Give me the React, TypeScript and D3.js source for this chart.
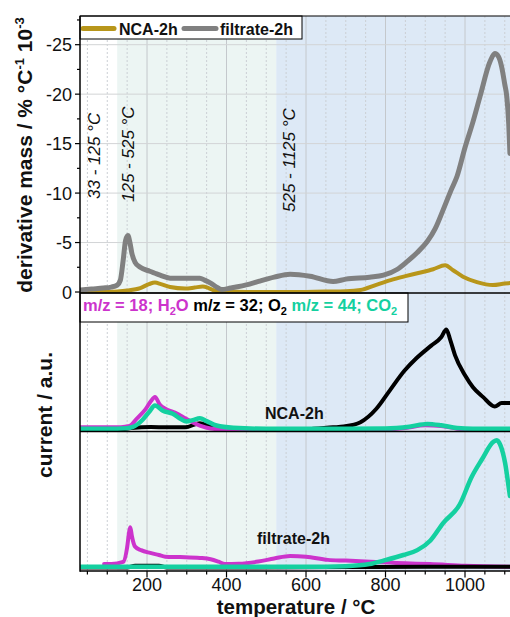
import React from 'react';
import * as d3 from 'd3';

const W = 510;
const H = 617;
const FONT = "'Liberation Sans', Arial, Helvetica, sans-serif";

// ---- axis ticks ----
const X_MAJOR_TICKS = [200, 400, 600, 800, 1000];
const X_MINOR_STEP = 50;
const Y_TOP_TICKS = [0, -5, -10, -15, -20, -25];

// ---- temperature regions ----
const REGION_START = [33, 125, 525];
const REGION_END = [125, 525, 1125];
const REGION_LABELS = ['33 - 125 °C', '125 - 525 °C', '525 - 1125 °C'];

// ---- top panel: derivative mass (% °C-1 10-3) ----
const T_DTG_FIL = [33, 60, 90, 110, 125, 133, 140, 146, 152, 157, 162, 170, 183, 207, 220, 233, 258, 300, 333, 345, 360, 375, 388, 410, 458, 483, 520, 560, 610, 668, 700, 760, 795, 830, 855, 880, 905, 925, 945, 965, 980, 1000, 1020, 1038, 1063, 1075, 1084, 1092, 1100, 1105, 1110, 1113];
const V_DTG_FIL = [-0.2, -0.3, -0.4, -0.5, -0.7, -1.2, -3.2, -5.2, -5.7, -5.0, -3.9, -3.0, -2.5, -2.1, -1.9, -1.7, -1.4, -1.4, -1.4, -1.2, -0.9, -0.5, -0.25, -0.4, -0.8, -1.1, -1.5, -1.8, -1.6, -1.05, -1.3, -1.5, -1.7, -2.3, -3.1, -4.0, -5.1, -6.4, -8.3, -10.3, -11.7, -14.6, -17.2, -19.8, -23.3, -24.1, -23.8, -22.8, -21.0, -19.8, -17.0, -14.0];

const T_DTG_NCA = [33, 100, 125, 150, 183, 205, 220, 235, 258, 296, 320, 340, 355, 370, 390, 450, 550, 650, 700, 737, 775, 813, 850, 880, 920, 950, 970, 995, 1030, 1070, 1100, 1113];
const V_DTG_NCA = [0, 0, -0.05, -0.15, -0.4, -0.8, -0.95, -0.8, -0.5, -0.35, -0.45, -0.55, -0.4, -0.15, -0.05, 0, 0, -0.05, -0.08, -0.2, -0.7, -1.2, -1.6, -1.9, -2.3, -2.7, -2.2, -1.55, -1.0, -0.7, -0.85, -0.9];

// ---- middle panel: NCA-2h ion currents (a.u.) ----
const T_NCA_O2 = [33, 130, 160, 210, 250, 296, 333, 355, 380, 420, 500, 600, 668, 695, 737, 777, 811, 848, 877, 915, 940, 953, 963, 975, 1000, 1020, 1045, 1075, 1092, 1113];
const V_NCA_O2 = [1.5, 1.5, 2.5, 3.2, 3.0, 3.0, 6.0, 4.0, 1.5, 1.0, 1.0, 1.5, 3.0, 3.6, 6.7, 16.4, 29.7, 44, 52.7, 62, 68, 73.7, 66, 55, 40.6, 32, 25, 18, 20.5, 20.5];

const T_NCA_H2O = [33, 125, 145, 158, 174, 196, 210, 220, 232, 246, 265, 280, 296, 314, 333, 360, 400, 500, 700, 800, 850, 900, 940, 980, 1020, 1113];
const V_NCA_H2O = [3, 3, 3.5, 4.3, 9.2, 16, 22, 25, 19.5, 16.4, 14.2, 12.3, 9.5, 6.7, 4.3, 2.2, 1.5, 1.2, 1.2, 1.5, 2.5, 4.5, 4.0, 2.0, 1.2, 1.2];

const T_NCA_CO2 = [33, 125, 150, 163, 189, 205, 220, 240, 265, 285, 299, 315, 333, 350, 375, 417, 500, 700, 800, 860, 905, 940, 980, 1020, 1113];
const V_NCA_CO2 = [2, 2, 2.3, 3.1, 8.5, 14, 18.8, 15, 12.8, 9, 7.2, 8.2, 9.6, 7.5, 4.3, 2.7, 2.0, 2.0, 2.2, 3.5, 5.5, 4.5, 2.5, 2.0, 2.0];

// ---- bottom panel: filtrate-2h ion currents (a.u.) ----
const T_FIL_O2 = [33, 150, 170, 230, 250, 400, 700, 900, 1113];
const V_FIL_O2 = [2.5, 2.5, 3.8, 3.8, 2.5, 2.5, 2.8, 3.0, 3.0];

const T_FIL_H2O = [92, 110, 140, 150, 155, 158, 162, 170, 185, 208, 230, 246, 283, 333, 360, 380, 396, 430, 480, 520, 560, 600, 655, 700, 762, 850, 912, 1000, 1113];
const V_FIL_H2O = [5, 5, 6.5, 17, 28, 31.5, 25, 17.5, 15, 13, 11.5, 10.3, 10, 9.4, 8.5, 6.7, 5, 5.2, 6.8, 9, 10.8, 10.3, 8, 7.5, 6.7, 5.5, 5, 3.8, 3];

const T_FIL_CO2 = [33, 200, 400, 600, 700, 760, 795, 845, 880, 913, 945, 987, 1017, 1042, 1072, 1080, 1089, 1101, 1111, 1113];
const V_FIL_CO2 = [3, 3, 3, 3, 3.5, 5, 7.5, 11.5, 15, 22, 34.5, 48, 67.8, 80, 93, 94, 90.6, 77.5, 58, 54];

// ---- colours ----
const C_NCA = '#b8961a';
const C_FIL = '#808080';
const C_H2O = '#cc33cc';
const C_O2 = '#000000';
const C_CO2 = '#14d0a0';

const LEFT = 80;
const RIGHT = 510;
const TOP = 16;
const P1_BOTTOM = 293;
const P2_BOTTOM = 431.5;
const P3_BOTTOM = 571;

export default function App() {
  const x = d3.scaleLinear().domain([31.4, 1113.2]).range([LEFT, RIGHT]);
  const yTop = d3.scaleLinear().domain([0.1, -27.9]).range([P1_BOTTOM, TOP]);
  const yMid = d3.scaleLinear().domain([0, 100]).range([P2_BOTTOM, 293]);
  const yBot = d3.scaleLinear().domain([0, 100]).range([P3_BOTTOM, 432]);

  const mk = (ys: d3.ScaleLinear<number, number>, ts: number[], vs: number[]) => {
    const line = d3
      .line<number>()
      .x((_, i) => x(ts[i]))
      .y((v) => ys(v))
      .curve(d3.curveMonotoneX);
    return line(vs) || '';
  };

  const minorTicks = d3.range(50, 1113, X_MINOR_STEP);
  const yMinor = d3.range(0, -27.6, -2.5);

  return (
    <svg
      width={W}
      height={H}
      style={{ position: 'absolute', left: 0, top: 0, background: '#fff' }}
      fontFamily={FONT}
    >
      <defs>
        <clipPath id="c1">
          <rect x={LEFT} y={TOP} width={RIGHT - LEFT} height={P1_BOTTOM - TOP} />
        </clipPath>
        <clipPath id="c2">
          <rect x={LEFT} y={P1_BOTTOM} width={RIGHT - LEFT} height={P2_BOTTOM - P1_BOTTOM} />
        </clipPath>
        <clipPath id="c3">
          <rect x={LEFT} y={P2_BOTTOM} width={RIGHT - LEFT} height={P3_BOTTOM - P2_BOTTOM} />
        </clipPath>
      </defs>
      <rect x={0} y={0} width={W} height={H} fill="#fff" />

      {/* shaded regions */}
      <rect x={x(REGION_START[1])} y={TOP} width={x(REGION_END[1]) - x(REGION_START[1])} height={P3_BOTTOM - TOP} fill="#ecf5f3" />
      <rect x={x(REGION_START[2])} y={TOP} width={RIGHT - x(REGION_START[2])} height={P3_BOTTOM - TOP} fill="#dde9f6" />

      {/* vertical grid */}
      {minorTicks.map((t) => (
        <line
          key={'g' + t}
          x1={x(t)}
          x2={x(t)}
          y1={TOP}
          y2={P3_BOTTOM}
          stroke={t % 200 === 0 ? '#c4c8cc' : '#cbcfd4'}
          strokeWidth={1}
          strokeDasharray={t % 200 === 0 ? undefined : '2,2'}
        />
      ))}
      {/* horizontal grid top panel */}
      {Y_TOP_TICKS.filter((v) => v !== 0).map((v) => (
        <line key={'h' + v} x1={LEFT} x2={RIGHT} y1={yTop(v)} y2={yTop(v)} stroke="#d2d4d6" strokeWidth={1} />
      ))}

      {/* region labels */}
      {REGION_LABELS.map((lab, i) => {
        const bx = [100, 134, 295][i];
        const by = [199, 202, 212][i];
        return (
          <text
            key={lab}
            transform={`translate(${bx},${by}) rotate(-90)`}
            fontSize={17}
            fontStyle="italic"
            fill="#111"
          >
            {lab}
          </text>
        );
      })}

      {/* top panel lines */}
      <g clipPath="url(#c1)" fill="none" strokeLinejoin="round" strokeLinecap="round">
        <path d={mk(yTop, T_DTG_NCA, V_DTG_NCA)} stroke={C_NCA} strokeWidth={4} />
        <path d={mk(yTop, T_DTG_FIL, V_DTG_FIL)} stroke={C_FIL} strokeWidth={5} />
      </g>

      {/* middle panel lines */}
      <g clipPath="url(#c2)" fill="none" strokeLinejoin="round" strokeLinecap="round">
        <path d={mk(yMid, T_NCA_O2, V_NCA_O2)} stroke={C_O2} strokeWidth={4} />
        <path d={mk(yMid, T_NCA_H2O, V_NCA_H2O)} stroke={C_H2O} strokeWidth={4} />
        <path d={mk(yMid, T_NCA_CO2, V_NCA_CO2)} stroke={C_CO2} strokeWidth={4.5} />
      </g>

      {/* bottom panel lines */}
      <g clipPath="url(#c3)" fill="none" strokeLinejoin="round" strokeLinecap="round">
        <path d={mk(yBot, T_FIL_H2O, V_FIL_H2O)} stroke={C_H2O} strokeWidth={4} />
        <path d={mk(yBot, T_FIL_O2, V_FIL_O2)} stroke={C_O2} strokeWidth={4} />
        <path d={mk(yBot, T_FIL_CO2, V_FIL_CO2)} stroke={C_CO2} strokeWidth={4.5} />
      </g>

      {/* panel labels */}
      <text x={265} y={419} fontSize={16} fontWeight="bold" fill="#111">NCA-2h</text>
      <text x={257} y={544} fontSize={16} fontWeight="bold" fill="#111">filtrate-2h</text>

      {/* top legend */}
      <rect x={LEFT} y={TOP} width={222} height={23} fill="#fff" stroke="#000" strokeWidth={1} />
      <line x1={83} x2={114} y1={28.5} y2={28.5} stroke={C_NCA} strokeWidth={5} strokeLinecap="round" />
      <text x={119} y={34.5} fontSize={16} fontWeight="bold" fill="#111">NCA-2h</text>
      <line x1={184} x2={216} y1={28.5} y2={28.5} stroke={C_FIL} strokeWidth={5} strokeLinecap="round" />
      <text x={220} y={34.5} fontSize={16} fontWeight="bold" fill="#111">filtrate-2h</text>

      {/* middle legend */}
      <rect x={LEFT} y={P1_BOTTOM} width={328} height={29} fill="#fff" stroke="#000" strokeWidth={1} />
      <text x={83} y={311} fontSize={16.5} fontWeight="bold">
        <tspan fill={C_H2O}>m/z = 18; H</tspan>
        <tspan fill={C_H2O} fontSize={11} dy={4}>2</tspan>
        <tspan fill={C_H2O} dy={-4}>O</tspan>
        <tspan fill={C_O2}> m/z = 32; O</tspan>
        <tspan fill={C_O2} fontSize={11} dy={4}>2</tspan>
        <tspan fill={C_CO2} dy={-4}> m/z = 44; CO</tspan>
        <tspan fill={C_CO2} fontSize={11} dy={4}>2</tspan>
      </text>

      {/* axes */}
      <line x1={LEFT} x2={RIGHT} y1={TOP} y2={TOP} stroke="#000" strokeWidth={1.2} />
      <line x1={LEFT} x2={RIGHT} y1={P1_BOTTOM} y2={P1_BOTTOM} stroke="#000" strokeWidth={1.5} />
      <line x1={LEFT} x2={RIGHT} y1={P2_BOTTOM} y2={P2_BOTTOM} stroke="#000" strokeWidth={1.5} />
      <line x1={LEFT} x2={RIGHT} y1={P3_BOTTOM} y2={P3_BOTTOM} stroke="#000" strokeWidth={1.5} />
      <line x1={LEFT} x2={LEFT} y1={TOP} y2={P3_BOTTOM + 0.75} stroke="#000" strokeWidth={1.5} />

      {/* x ticks */}
      {minorTicks.map((t) => (
        <line
          key={'xt' + t}
          x1={x(t)}
          x2={x(t)}
          y1={P3_BOTTOM}
          y2={P3_BOTTOM + (X_MAJOR_TICKS.includes(t) ? 6.5 : 3.5)}
          stroke="#000"
          strokeWidth={1.2}
        />
      ))}
      {X_MAJOR_TICKS.map((t) => (
        <text key={'xl' + t} x={x(t)} y={591} fontSize={18} textAnchor="middle" fill="#111">
          {t}
        </text>
      ))}

      {/* y ticks top */}
      {yMinor.map((v) => (
        <line
          key={'yt' + v}
          x1={LEFT}
          x2={LEFT - (v % 5 === 0 ? 5 : 3)}
          y1={yTop(v)}
          y2={yTop(v)}
          stroke="#000"
          strokeWidth={1.2}
        />
      ))}
      {Y_TOP_TICKS.map((v) => (
        <text key={'yl' + v} x={72} y={yTop(v) + 6.5} fontSize={18} textAnchor="end" fill="#111">
          {v === 0 ? '0' : String(v)}
        </text>
      ))}

      {/* axis titles */}
      <text x={296} y={613.5} fontSize={20.5} fontWeight="bold" textAnchor="middle" fill="#111">
        temperature / °C
      </text>
      <text transform="translate(52,415) rotate(-90)" fontSize={21} fontWeight="bold" textAnchor="middle" fill="#111">
        current / a.u.
      </text>
      <text transform="translate(32,155) rotate(-90)" fontSize={21} fontWeight="bold" textAnchor="middle" fill="#111">
        <tspan>derivative mass / % °C</tspan>
        <tspan fontSize={13} dy={-8}>-1</tspan>
        <tspan dy={8}> 10</tspan>
        <tspan fontSize={13} dy={-8}>-3</tspan>
      </text>
    </svg>
  );
}
